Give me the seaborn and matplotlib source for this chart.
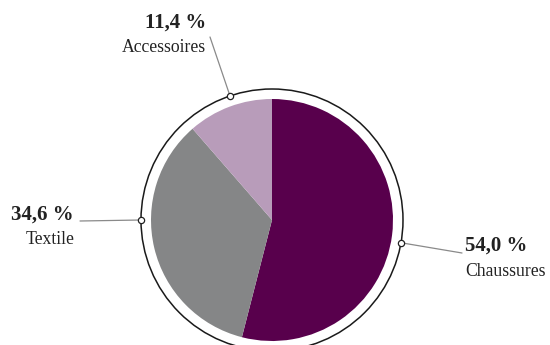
import matplotlib
matplotlib.use("Agg")
import matplotlib.pyplot as plt
import seaborn as sns
import numpy as np

categories = ["Chaussures", "Textile", "Accessoires"]
values = [54.0, 34.6, 11.4]
value_labels = ["54,0 %", "34,6 %", "11,4 %"]
colors = ["#58004c", "#858687", "#b89cba"]

sns.set_theme(style="white")
plt.rcParams["font.family"] = ["Liberation Serif", "DejaVu Serif"]

fig = plt.figure(figsize=(5.5, 3.45), dpi=100)
ax = fig.add_axes([0, 0, 1, 1])

cx, cy, r = 272, 125, 121
ring_r = 131
ax.pie(values, colors=colors, startangle=90, counterclock=False,
       center=(cx, cy), radius=r, frame=True,
       wedgeprops=dict(linewidth=0))
ax.set_xlim(0, 550)
ax.set_ylim(0, 345)
ax.set_aspect("equal")
ax.axis("off")

ring = plt.Circle((cx, cy), ring_r, fill=False, edgecolor="#1a1a1a", lw=1.1, zorder=3)
ax.add_patch(ring)

# annotation layout: marker angle on the ring, line end, text anchor
layout = {
    "Chaussures": dict(angle=-10, end=(462, 92), text=(465, 99), ha="left"),
    "Textile": dict(angle=180, end=(80, 124), text=(74, 130), ha="right"),
    "Accessoires": dict(angle=108.7, end=(210, 308), text=(206, 322), ha="right"),
}

for cat, lab in zip(categories, value_labels):
    L = layout[cat]
    a = np.deg2rad(L["angle"])
    mx, my = cx + ring_r * np.cos(a), cy + ring_r * np.sin(a)
    ax.plot([mx, L["end"][0]], [my, L["end"][1]], color="#8a8a8a", lw=0.9, zorder=2)
    ax.plot([mx], [my], marker="o", ms=4.5, mfc="white", mec="#222222", mew=0.9, zorder=5)
    tx, ty = L["text"]
    ax.text(tx, ty, lab, ha=L["ha"], va="center", fontsize=15, fontweight="bold", color="#222222")
    ax.text(tx, ty - 25, cat, ha=L["ha"], va="center", fontsize=12.7, color="#222222")

fig.savefig("out.png", dpi=100)
